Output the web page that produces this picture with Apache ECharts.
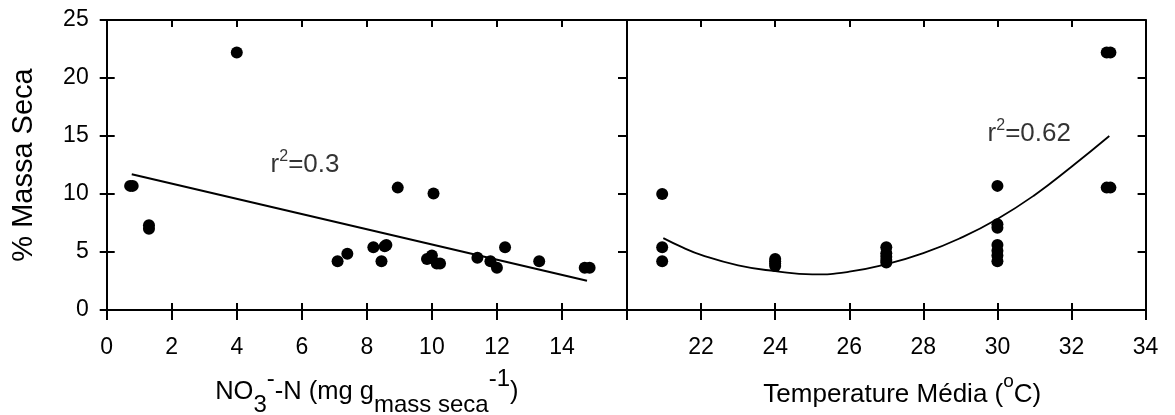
<!DOCTYPE html>
<html>
<head>
<meta charset="utf-8">
<script src="https://cdn.jsdelivr.net/npm/echarts@6/dist/echarts.min.js"></script>
<style>
html,body{margin:0;padding:0;background:#fff;}
#c{width:1175px;height:415px;}
</style>
</head>
<body>
<div id="c"></div>
<script>
// ---- Data ----
const nitrateX    = [0.72, 0.8, 1.3, 1.3, 4.0, 7.1, 7.4, 8.2, 8.55, 8.6, 8.45, 8.95, 9.85, 10.0, 10.05, 10.15, 10.25, 11.4, 11.8, 12.0, 12.25, 13.3, 14.7, 14.85];
const nitrateMass = [10.7, 10.7, 7.0, 7.3, 22.2, 4.2, 4.85, 5.4, 5.5, 5.6, 4.2, 10.55, 4.4, 4.7, 10.05, 4.0, 4.0, 4.5, 4.2, 3.65, 5.4, 4.2, 3.65, 3.65];

const tempX    = [20.95, 20.95, 20.95, 24, 24, 24, 24, 27, 27, 27, 27, 27, 30, 30, 30, 30, 30, 30, 30, 32.95, 33.05, 32.95, 33.05];
const tempMass = [10.0, 5.4, 4.2, 4.4, 4.2, 4.0, 3.8, 5.4, 4.9, 4.6, 4.3, 4.1, 10.7, 7.4, 7.1, 5.6, 5.1, 4.7, 4.2, 22.2, 22.2, 10.55, 10.55];

const nitrateFitX = [0.77, 14.77];
const nitrateFitY = [11.7, 2.53];

const tempFitX = [20.98, 21.5, 22, 23, 24, 25, 26, 27, 28, 29, 30, 31, 32, 33.02];
const tempFitY = [6.2, 5.4, 4.75, 3.85, 3.35, 3.07, 3.3, 3.95, 4.9, 6.2, 7.85, 9.9, 12.35, 15.0];

const nitrateTicks = [0, 2, 4, 6, 8, 10, 12, 14];
const tempTicks    = [22, 24, 26, 28, 30, 32, 34];
const massTicks    = [0, 5, 10, 15, 20, 25];

const nitrateR2 = '0.3';
const tempR2    = '0.62';
const nitrateR2Pos = [6.1, 12.55];
const tempR2Pos    = [30.86, 15.2];

// ---- Chart ----
const FONT = "'Liberation Sans', Arial, sans-serif";
const black = '#000';
const zip = (a, b) => a.map((v, i) => [v, b[i]]);

const lineStyle = { color: black, width: 2 };
const tickStyle = { color: black, width: 2 };

function xAx(grid, pos, min, max, opts) {
  return Object.assign({
    type: 'value', gridIndex: grid, position: pos, min: min, max: max, interval: 2,
    splitLine: { show: false },
    axisLine: { show: true, lineStyle: lineStyle, onZero: false },
    axisTick: { show: true, inside: false, length: 10, lineStyle: tickStyle },
    axisLabel: { show: false }
  }, opts || {});
}
function yAx(grid, pos, opts) {
  return Object.assign({
    type: 'value', gridIndex: grid, position: pos, min: 0, max: 25, interval: 5,
    splitLine: { show: false },
    axisLine: { show: true, lineStyle: lineStyle, onZero: false },
    axisTick: { show: true, inside: false, length: 7, lineStyle: tickStyle },
    axisLabel: { show: false }
  }, opts || {});
}

const labelStyle = (ticks) => ({
  show: true, color: black, fontFamily: FONT, fontSize: 23,
  formatter: (v) => ticks.indexOf(v) >= 0 ? String(v) : ''
});

const richR2 = {
  a: { fontFamily: FONT, fontSize: 26, color: black, lineHeight: 32, verticalAlign: 'middle' },
  s: { fontFamily: FONT, fontSize: 16, color: black, lineHeight: 19, verticalAlign: 'top' }
};

const option = {
  backgroundColor: '#fff',
  animation: false,
  grid: [
    { left: 106.7, top: 20, width: 520.3, height: 290, containLabel: false, outerBoundsMode: 'none' },
    { left: 627, top: 20, width: 518.6, height: 290, containLabel: false, outerBoundsMode: 'none' }
  ],
  xAxis: [
    xAx(0, 'bottom', 0, 16, {
      axisLabel: Object.assign(labelStyle(nitrateTicks), { margin: 26 }),
      name: '{m|NO}{b|3}{t|-}{m|-N (mg g}{b|mass seca}{t|-1}{m|)}',
      nameLocation: 'middle', nameGap: 57,
      nameTextStyle: {
        rich: {
          m: { fontFamily: FONT, fontSize: 25.5, color: black, lineHeight: 50, verticalAlign: 'middle' },
          b: { fontFamily: FONT, fontSize: 24, color: black, lineHeight: 26, verticalAlign: 'bottom' },
          t: { fontFamily: FONT, fontSize: 24, color: black, lineHeight: 26, verticalAlign: 'top' }
        }
      }
    }),
    xAx(0, 'bottom', 0, 16, { axisLine: { show: false }, axisTick: { show: true, inside: true, length: 7, lineStyle: tickStyle } }),
    xAx(0, 'top', 0, 16, { axisTick: { show: true, inside: true, length: 7, lineStyle: tickStyle } }),
    xAx(1, 'bottom', 20, 34, {
      axisLabel: Object.assign(labelStyle(tempTicks), { margin: 26 }),
      name: '{m|Temperature Média (}{t|o}{m|C)}',
      nameLocation: 'middle', nameGap: 62,
      nameTextStyle: {
        padding: [0, 0, 0, 32],
        rich: {
          m: { fontFamily: FONT, fontSize: 26, color: black, lineHeight: 46, verticalAlign: 'middle' },
          t: { fontFamily: FONT, fontSize: 19, color: black, lineHeight: 18, verticalAlign: 'top' }
        }
      }
    }),
    xAx(1, 'bottom', 20, 34, { axisLine: { show: false }, axisTick: { show: true, inside: true, length: 7, lineStyle: tickStyle } }),
    xAx(1, 'top', 20, 34, { axisTick: { show: true, inside: true, length: 7, lineStyle: tickStyle } })
  ],
  yAxis: [
    yAx(0, 'left', {
      axisLabel: Object.assign(labelStyle(massTicks), { margin: 18 }),
      name: '% Massa Seca', nameLocation: 'middle', nameGap: 68,
      nameTextStyle: { fontFamily: FONT, fontSize: 29, color: black, lineHeight: 30 }
    }),
    yAx(0, 'left', { axisLine: { show: false }, axisTick: { show: true, inside: true, length: 8, lineStyle: tickStyle } }),
    yAx(0, 'right', { axisTick: { show: true, inside: true, length: 9, lineStyle: tickStyle } }),
    yAx(1, 'left', { axisTick: { show: false } }),
    yAx(1, 'right', { axisTick: { show: true, inside: true, length: 8, lineStyle: tickStyle } })
  ],
  series: [
    {
      type: 'line', xAxisIndex: 0, yAxisIndex: 0, data: zip(nitrateFitX, nitrateFitY),
      showSymbol: false, symbol: 'none', lineStyle: { color: black, width: 2 }, z: 2
    },
    {
      type: 'scatter', xAxisIndex: 0, yAxisIndex: 0, data: zip(nitrateX, nitrateMass),
      symbol: 'circle', symbolSize: 12, itemStyle: { color: black, opacity: 1 }, z: 3
    },
    {
      type: 'scatter', xAxisIndex: 0, yAxisIndex: 0, data: [nitrateR2Pos], symbolSize: 0, silent: true,
      label: { show: true, position: 'inside', formatter: '{a|r}{s|2}{a|=' + nitrateR2 + '}', rich: richR2 }
    },
    {
      type: 'line', xAxisIndex: 3, yAxisIndex: 3, data: zip(tempFitX, tempFitY),
      showSymbol: false, symbol: 'none', smooth: 0.5, lineStyle: { color: black, width: 1.8 }, z: 2
    },
    {
      type: 'scatter', xAxisIndex: 3, yAxisIndex: 3, data: zip(tempX, tempMass),
      symbol: 'circle', symbolSize: 12, itemStyle: { color: black, opacity: 1 }, z: 3
    },
    {
      type: 'scatter', xAxisIndex: 3, yAxisIndex: 3, data: [tempR2Pos], symbolSize: 0, silent: true,
      label: { show: true, position: 'inside', formatter: '{a|r}{s|2}{a|=' + tempR2 + '}', rich: richR2 }
    }
  ]
};

const chart = echarts.init(document.getElementById('c'), null, { renderer: 'canvas' });
chart.setOption(option);
</script>
</body>
</html>
